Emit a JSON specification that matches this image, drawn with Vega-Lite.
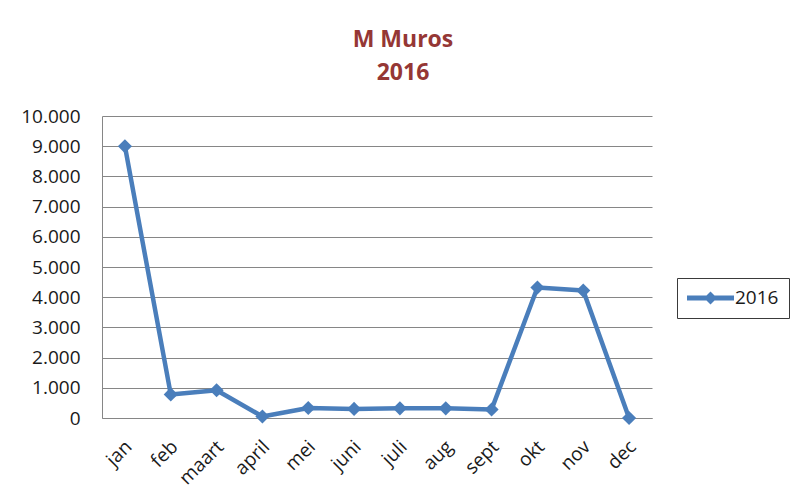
{
  "$schema": "https://vega.github.io/schema/vega-lite/v6.json",
  "width": 550,
  "height": 302,
  "autosize": {"type": "none"},
  "padding": {"left": 102, "top": 116, "right": 140, "bottom": 83},
  "background": "white",
  "title": {
    "text": ["M Muros", "2016"],
    "font": "Open Sans",
    "fontSize": 23,
    "fontWeight": "bold",
    "color": "#953735",
    "anchor": "middle",
    "frame": "group",
    "dx": 26,
    "lineHeight": 33,
    "offset": 22
  },
  "data": {
    "values": [
      {"maand": "jan", "waarde": 9000, "serie": "2016"},
      {"maand": "feb", "waarde": 780, "serie": "2016"},
      {"maand": "maart", "waarde": 920, "serie": "2016"},
      {"maand": "april", "waarde": 50, "serie": "2016"},
      {"maand": "mei", "waarde": 330, "serie": "2016"},
      {"maand": "juni", "waarde": 300, "serie": "2016"},
      {"maand": "juli", "waarde": 320, "serie": "2016"},
      {"maand": "aug", "waarde": 320, "serie": "2016"},
      {"maand": "sept", "waarde": 280, "serie": "2016"},
      {"maand": "okt", "waarde": 4320, "serie": "2016"},
      {"maand": "nov", "waarde": 4220, "serie": "2016"},
      {"maand": "dec", "waarde": 0, "serie": "2016"}
    ]
  },
  "encoding": {
    "x": {
      "field": "maand",
      "type": "nominal",
      "sort": null,
      "scale": {"paddingInner": 0, "paddingOuter": 0},
      "axis": {
        "title": null,
        "labelAngle": -45,
        "labelAlign": "right",
        "labelBaseline": "top",
        "labelPadding": 19,
        "labelOffset": -3,
        "ticks": false,
        "tickSize": 0,
        "grid": false,
        "domain": true,
        "domainColor": "#868686",
        "domainWidth": 1,
        "labelFont": "Open Sans",
        "labelFontSize": 19,
        "labelColor": "#1a1a1a"
      }
    },
    "y": {
      "field": "waarde",
      "type": "quantitative",
      "scale": {"domain": [0, 10000], "nice": false},
      "axis": {
        "title": null,
        "values": [0, 1000, 2000, 3000, 4000, 5000, 6000, 7000, 8000, 9000, 10000],
        "format": ",d",
        "ticks": false,
        "tickSize": 0,
        "labelPadding": 22,
        "grid": true,
        "gridColor": "#868686",
        "gridWidth": 1,
        "domain": true,
        "domainColor": "#868686",
        "domainWidth": 1,
        "labelFont": "Open Sans",
        "labelFontSize": 19,
        "labelColor": "#1a1a1a"
      }
    }
  },
  "layer": [
    {
      "mark": {"type": "line", "color": "#4A7EBB", "strokeWidth": 4.5, "strokeJoin": "round"}
    },
    {
      "mark": {"type": "point", "shape": "diamond", "size": 200, "filled": true, "opacity": 1},
      "encoding": {
        "color": {
          "field": "serie",
          "type": "nominal",
          "scale": {"range": ["#4A7EBB"]},
          "legend": {
            "title": null,
            "orient": "none",
            "legendX": 575,
            "legendY": 162,
            "padding": 10,
            "strokeColor": "#3a3a3a",
            "fillColor": "white",
            "symbolType": "M-1,-0.25L0.95,-0.25L1.35,-0.65L1.75,-0.25L3.7,-0.25L3.7,0.25L1.75,0.25L1.35,0.65L0.95,0.25L-1,0.25Z",
            "symbolSize": 400,
            "symbolStrokeWidth": 0,
            "symbolOpacity": 1,
            "labelOffset": 28,
            "labelFont": "Open Sans",
            "labelFontSize": 19,
            "labelColor": "#1a1a1a"
          }
        }
      }
    }
  ],
  "config": {
    "view": {"stroke": null},
    "locale": {
      "number": {"decimal": ",", "thousands": ".", "grouping": [3], "currency": ["€", ""]}
    }
  }
}
